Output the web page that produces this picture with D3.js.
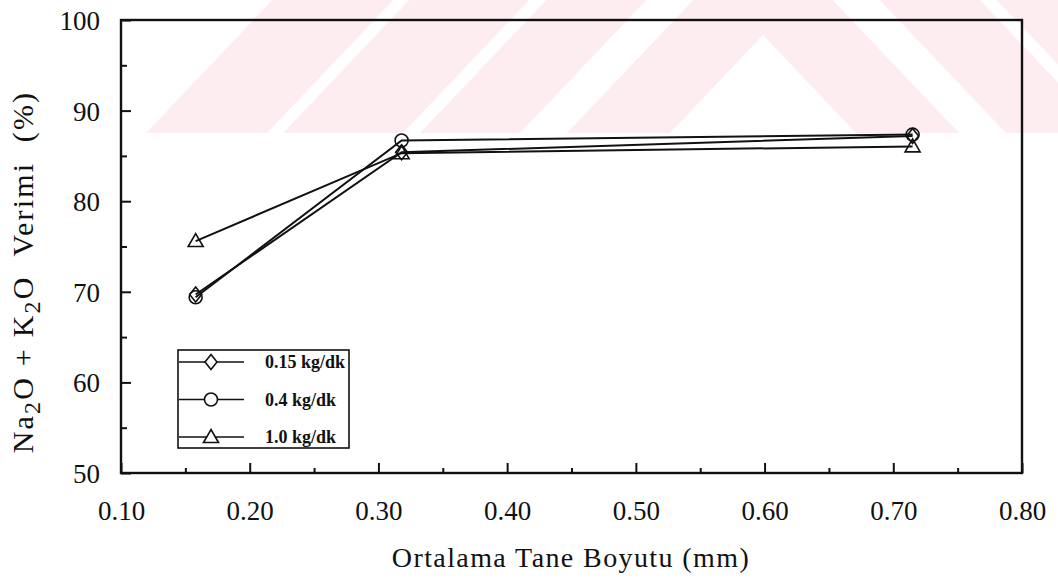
<!DOCTYPE html>
<html>
<head>
<meta charset="utf-8">
<title>Na2O + K2O Verimi</title>
<script src="https://d3js.org/d3.v7.min.js"></script>
<style>
  body { margin: 0; background: #fff; }
  text { font-family: "Liberation Serif", "Times New Roman", serif; fill: #111; }
</style>
</head>
<body>
<div id="chart"></div>
<script>
// mean grain size (mm)
var sizes = [0.158, 0.318, 0.715];
// yield (%) per feed rate
var rate015 = [69.7, 85.4, 87.2];
var rate04 = [69.4, 86.7, 87.35];
var rate10 = [75.6, 85.3, 86.05];
var seriesNames = ["0.15 kg/dk", "0.4 kg/dk", "1.0 kg/dk"];
var xTicks = [0.10, 0.20, 0.30, 0.40, 0.50, 0.60, 0.70, 0.80];
var yTicks = [50, 60, 70, 80, 90, 100];

var width = 1058, height = 583;
var plotL = 121, plotR = 1022, plotT = 20, plotB = 473;

var svg = d3.select("#chart").append("svg")
    .attr("width", width)
    .attr("height", height);

// faint watermark behind the chart (chevron bands)
var wmCenter = 763, wmBase = 133, wmSlope = 0.95;
var wmBands = [[93, 196], [243, 343], [360, 480], [496, 617]];
var wm = svg.append("g").attr("fill", "#fdedf0");
wmBands.forEach(function(b) {
    var a = b[0], o = b[1], sh = wmSlope * wmBase;
    var pts;
    if (a - sh < 0) {
        pts = [[wmCenter - o, wmBase], [wmCenter - o + sh, 0], [wmCenter + o - sh, 0],
               [wmCenter + o, wmBase], [wmCenter + a, wmBase], [wmCenter, wmBase - a / wmSlope],
               [wmCenter - a, wmBase]];
        wm.append("polygon").attr("points", pts.join(" "));
    } else {
        [-1, 1].forEach(function(s) {
            pts = [[wmCenter + s * o, wmBase], [wmCenter + s * (o - sh), 0],
                   [wmCenter + s * (a - sh), 0], [wmCenter + s * a, wmBase]];
            wm.append("polygon").attr("points", pts.join(" "));
        });
    }
});

var x = d3.scaleLinear().domain([0.10, 0.80]).range([plotL, plotR]);
var y = d3.scaleLinear().domain([50, 100]).range([plotB, plotT]);

// minor ticks
svg.append("g")
    .attr("transform", "translate(0," + plotB + ")")
    .call(d3.axisBottom(x).tickValues(d3.range(0.15, 0.8, 0.1)).tickSize(-5).tickFormat(""))
    .call(function(g) { g.select(".domain").remove(); })
    .selectAll("line").attr("stroke", "#111").attr("stroke-width", 2);
svg.append("g")
    .attr("transform", "translate(" + plotL + ",0)")
    .call(d3.axisLeft(y).tickValues([55, 65, 75, 85, 95]).tickSize(-6).tickFormat(""))
    .call(function(g) { g.select(".domain").remove(); })
    .selectAll("line").attr("stroke", "#111").attr("stroke-width", 2);

// major ticks + labels
var xAxis = svg.append("g")
    .attr("transform", "translate(0," + plotB + ")")
    .call(d3.axisBottom(x).tickValues(xTicks).tickSize(-10).tickFormat(d3.format(".2f")));
xAxis.select(".domain").remove();
xAxis.selectAll("line").attr("stroke", "#111").attr("stroke-width", 2);
xAxis.selectAll("text")
    .attr("y", 47).attr("dy", 0)
    .style("font-size", "27px")
    .style("font-family", "'Liberation Serif', serif")
    .attr("fill", "#111");

var yAxis = svg.append("g")
    .attr("transform", "translate(" + plotL + ",0)")
    .call(d3.axisLeft(y).tickValues(yTicks).tickSize(-10));
yAxis.select(".domain").remove();
yAxis.selectAll("line").attr("stroke", "#111").attr("stroke-width", 2);
yAxis.selectAll("text")
    .attr("x", -21).attr("dy", "0.35em")
    .style("font-size", "27px")
    .style("font-family", "'Liberation Serif', serif")
    .attr("fill", "#111");

// frame
svg.append("rect")
    .attr("x", plotL).attr("y", plotT)
    .attr("width", plotR - plotL).attr("height", plotB - plotT)
    .attr("fill", "none").attr("stroke", "#111").attr("stroke-width", 2.4);

// markers
function diamond(cx, cy) {
    return "M" + cx + "," + (cy - 7.5) + "L" + (cx + 6) + "," + cy + "L" + cx + "," + (cy + 7.5) +
        "L" + (cx - 6) + "," + cy + "Z";
}
function circle(cx, cy) {
    var r = 6.5;
    return "M" + (cx - r) + "," + cy + "A" + r + "," + r + " 0 1,0 " + (cx + r) + "," + cy +
        "A" + r + "," + r + " 0 1,0 " + (cx - r) + "," + cy + "Z";
}
function triangle(cx, cy) {
    return "M" + cx + "," + (cy - 7.5) + "L" + (cx + 7.5) + "," + (cy + 5.5) + "L" + (cx - 7.5) + "," +
        (cy + 5.5) + "Z";
}

var series = [
    { name: seriesNames[0], values: rate015, marker: diamond },
    { name: seriesNames[1], values: rate04, marker: circle },
    { name: seriesNames[2], values: rate10, marker: triangle }
];

var line = d3.line()
    .x(function(d) { return x(d[0]); })
    .y(function(d) { return y(d[1]); });

series.forEach(function(s) {
    var pts = sizes.map(function(v, i) { return [v, s.values[i]]; });
    svg.append("path")
        .attr("d", line(pts))
        .attr("fill", "none").attr("stroke", "#111").attr("stroke-width", 2);
    svg.selectAll(null).data(pts).enter().append("path")
        .attr("d", function(d) { return s.marker(x(d[0]), y(d[1])); })
        .attr("fill", "none").attr("stroke", "#111").attr("stroke-width", 1.6);
});

// legend
var lg = svg.append("g");
lg.append("rect")
    .attr("x", 178).attr("y", 350).attr("width", 171).attr("height", 98)
    .attr("fill", "#fff").attr("stroke", "#111").attr("stroke-width", 1.6);
series.forEach(function(s, i) {
    var ry = 362 + i * 37.5;
    lg.append("line").attr("x1", 179).attr("x2", 244).attr("y1", ry).attr("y2", ry)
        .attr("stroke", "#111").attr("stroke-width", 1.6);
    lg.append("path").attr("d", s.marker(211, ry))
        .attr("fill", "#fff").attr("stroke", "#111").attr("stroke-width", 1.6);
    lg.append("text").attr("x", 265).attr("y", ry + 6)
        .style("font-size", "18px").style("font-weight", "bold")
        .text(s.name);
});

// axis titles
svg.append("text")
    .attr("x", 571).attr("y", 567)
    .attr("text-anchor", "middle")
    .style("font-size", "28px").style("letter-spacing", "1.4px")
    .text("Ortalama Tane Boyutu (mm)");

var yt = svg.append("text")
    .attr("transform", "translate(33,272) rotate(-90)")
    .attr("text-anchor", "middle")
    .style("font-size", "30px").style("letter-spacing", "2.2px")
    .style("white-space", "pre");
yt.append("tspan").text("Na");
yt.append("tspan").attr("dy", 7).style("font-size", "24px").text("2");
yt.append("tspan").attr("dy", -7).text("O + K");
yt.append("tspan").attr("dy", 7).style("font-size", "24px").text("2");
yt.append("tspan").attr("dy", -7).text("O  Verimi  (%)");
</script>
</body>
</html>
